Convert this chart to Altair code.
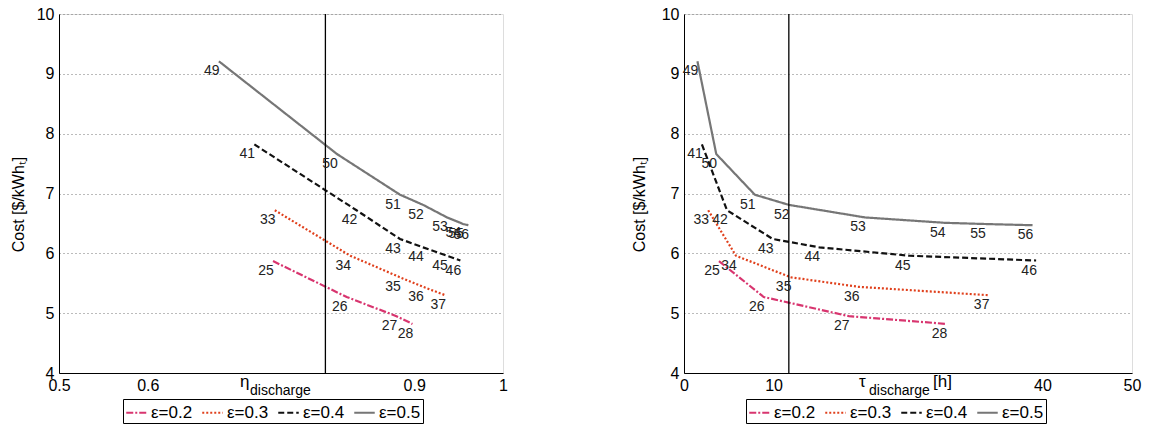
import altair as alt
import pandas as pd

# ---- data ----
eps_names = ["ε=0.2", "ε=0.3", "ε=0.4", "ε=0.5"]

ids_02 = ["25", "26", "27", "28"]
eta_02 = [0.741, 0.824, 0.880, 0.898]
tau_02 = [3.9, 8.9, 18.4, 29.3]
cost_02 = [5.87, 5.27, 4.95, 4.82]

ids_03 = ["33", "34", "35", "36", "37"]
eta_03 = [0.743, 0.828, 0.884, 0.910, 0.935]
tau_03 = [2.7, 5.8, 11.9, 19.5, 34.0]
cost_03 = [6.72, 5.96, 5.60, 5.44, 5.30]

ids_04 = ["41", "42", "43", "44", "45", "46"]
eta_04 = [0.720, 0.835, 0.884, 0.910, 0.937, 0.952]
tau_04 = [2.0, 4.8, 9.9, 15.1, 25.2, 39.3]
cost_04 = [7.82, 6.72, 6.24, 6.10, 5.96, 5.88]

ids_05 = ["49", "50", "51", "52", "53", "54", "55", "56"]
eta_05 = [0.680, 0.813, 0.884, 0.910, 0.937, 0.952, 0.955, 0.961]
tau_05 = [1.5, 3.6, 7.9, 11.7, 20.2, 29.1, 33.6, 38.9]
cost_05 = [9.21, 7.66, 6.98, 6.81, 6.60, 6.51, 6.49, 6.47]

eta_ref = [0.8]
tau_ref = [11.7]

y_ticks = [4, 5, 6, 7, 8, 9, 10]
eta_ticks = [0.5, 0.6, 0.9, 1.0]
tau_ticks = [0, 10, 40, 50]

y_title = "Cost [$/kWhₜ]"
eta_main, eta_sub = "η", "discharge"
tau_main, tau_sub, tau_unit = "τ", "discharge", "[h]"

# ---- table ----
rows = []
for name, ids, eta, tau, cost in [
    (eps_names[0], ids_02, eta_02, tau_02, cost_02),
    (eps_names[1], ids_03, eta_03, tau_03, cost_03),
    (eps_names[2], ids_04, eta_04, tau_04, cost_04),
    (eps_names[3], ids_05, eta_05, tau_05, cost_05),
]:
    for i, (p, e, t, c) in enumerate(zip(ids, eta, tau, cost)):
        rows.append({"eps": name, "pid": p, "eta": e, "tau": t, "cost": c, "idx": i})
df = pd.DataFrame(rows)

colors = ["#d8356f", "#e0401c", "#111111", "#767676"]
dashes = [[7, 2, 2, 2], [2, 2], [6, 3], [1, 0]]
FONT = "Liberation Sans"

def legend(lx):
    return alt.Legend(
        orient="none", legendX=lx, legendY=385, direction="horizontal",
        symbolType="stroke", symbolSize=420, symbolStrokeWidth=2.2,
        labelFontSize=17, labelFont=FONT, labelColor="black",
        strokeColor="black", fillColor="white", padding=2,
        columnPadding=4, labelOffset=3, symbolOffset=0,
    )

def panel(xfield, xdom, xticks, refv, width, lx, main, sub, unit, tx, ytx):
    yaxis = alt.Axis(values=y_ticks, title=y_title, grid=True, gridDash=[1, 3],
                     gridColor="#555555", gridOpacity=0.8, ticks=False,
                     labelFontSize=16, labelFont=FONT, labelColor="black",
                     labelPadding=5, domainColor="black",
                     titleFontSize=16, titleFont=FONT, titleFontWeight="normal",
                     titleColor="black", titleX=ytx, titleY=190)
    xaxis = alt.Axis(values=xticks, format="~g", title=None, grid=False, ticks=False,
                     labelFontSize=16, labelFont=FONT, labelColor="black",
                     labelPadding=4, domainColor="black", labelFlush=False)
    x = alt.X(f"{xfield}:Q", scale=alt.Scale(domain=xdom, nice=False), axis=xaxis)
    y = alt.Y("cost:Q", scale=alt.Scale(domain=[4, 10], nice=False), axis=yaxis)
    base = alt.Chart(df)
    lines = base.mark_line(strokeWidth=2.2).encode(
        x=x, y=y,
        color=alt.Color("eps:N", scale=alt.Scale(domain=eps_names, range=colors),
                        title=None, legend=legend(lx)),
        strokeDash=alt.StrokeDash("eps:N", scale=alt.Scale(domain=eps_names, range=dashes),
                                  title=None, legend=legend(lx)),
        order="idx:Q",
    )
    labels = base.mark_text(dx=-7, dy=10, fontSize=14, font=FONT, color="#222222").encode(
        x=x, y=y, text="pid:N")
    rule = alt.Chart(pd.DataFrame({"v": refv})).mark_rule(color="black", strokeWidth=1.3).encode(
        x=alt.X("v:Q", scale=alt.Scale(domain=xdom, nice=False)))
    t_main = alt.Chart(pd.DataFrame({"t": [main]})).mark_text(
        fontSize=17, font=FONT, align="left", baseline="alphabetic").encode(
        text="t:N", x=alt.value(tx), y=alt.value(373))
    t_sub = alt.Chart(pd.DataFrame({"t": [sub]})).mark_text(
        fontSize=14, font=FONT, align="left", baseline="alphabetic").encode(
        text="t:N", x=alt.value(tx + 10), y=alt.value(381))
    layers = [lines, rule, labels, t_main, t_sub]
    if unit:
        layers.append(alt.Chart(pd.DataFrame({"t": [unit]})).mark_text(
            fontSize=17, font=FONT, align="left", baseline="alphabetic").encode(
            text="t:N", x=alt.value(tx + 74), y=alt.value(373)))
    return alt.layer(*layers).properties(width=width, height=359)

left = panel("eta", [0.5, 1.0], eta_ticks, eta_ref, 444, 64, eta_main, eta_sub, None, 181, -33)
right = panel("tau", [0, 50], tau_ticks, tau_ref, 448, 62, tau_main, tau_sub, tau_unit, 175, -37)

chart = alt.hconcat(left, right, spacing=122).resolve_scale(
    color="independent", strokeDash="independent"
).resolve_legend(color="independent", strokeDash="independent").properties(
    padding={"left": 9, "top": 5, "right": 5, "bottom": 0}
).configure_view(stroke=None).configure(background="white")

chart.save("out.html", embed_options={"renderer": "svg", "actions": False})
